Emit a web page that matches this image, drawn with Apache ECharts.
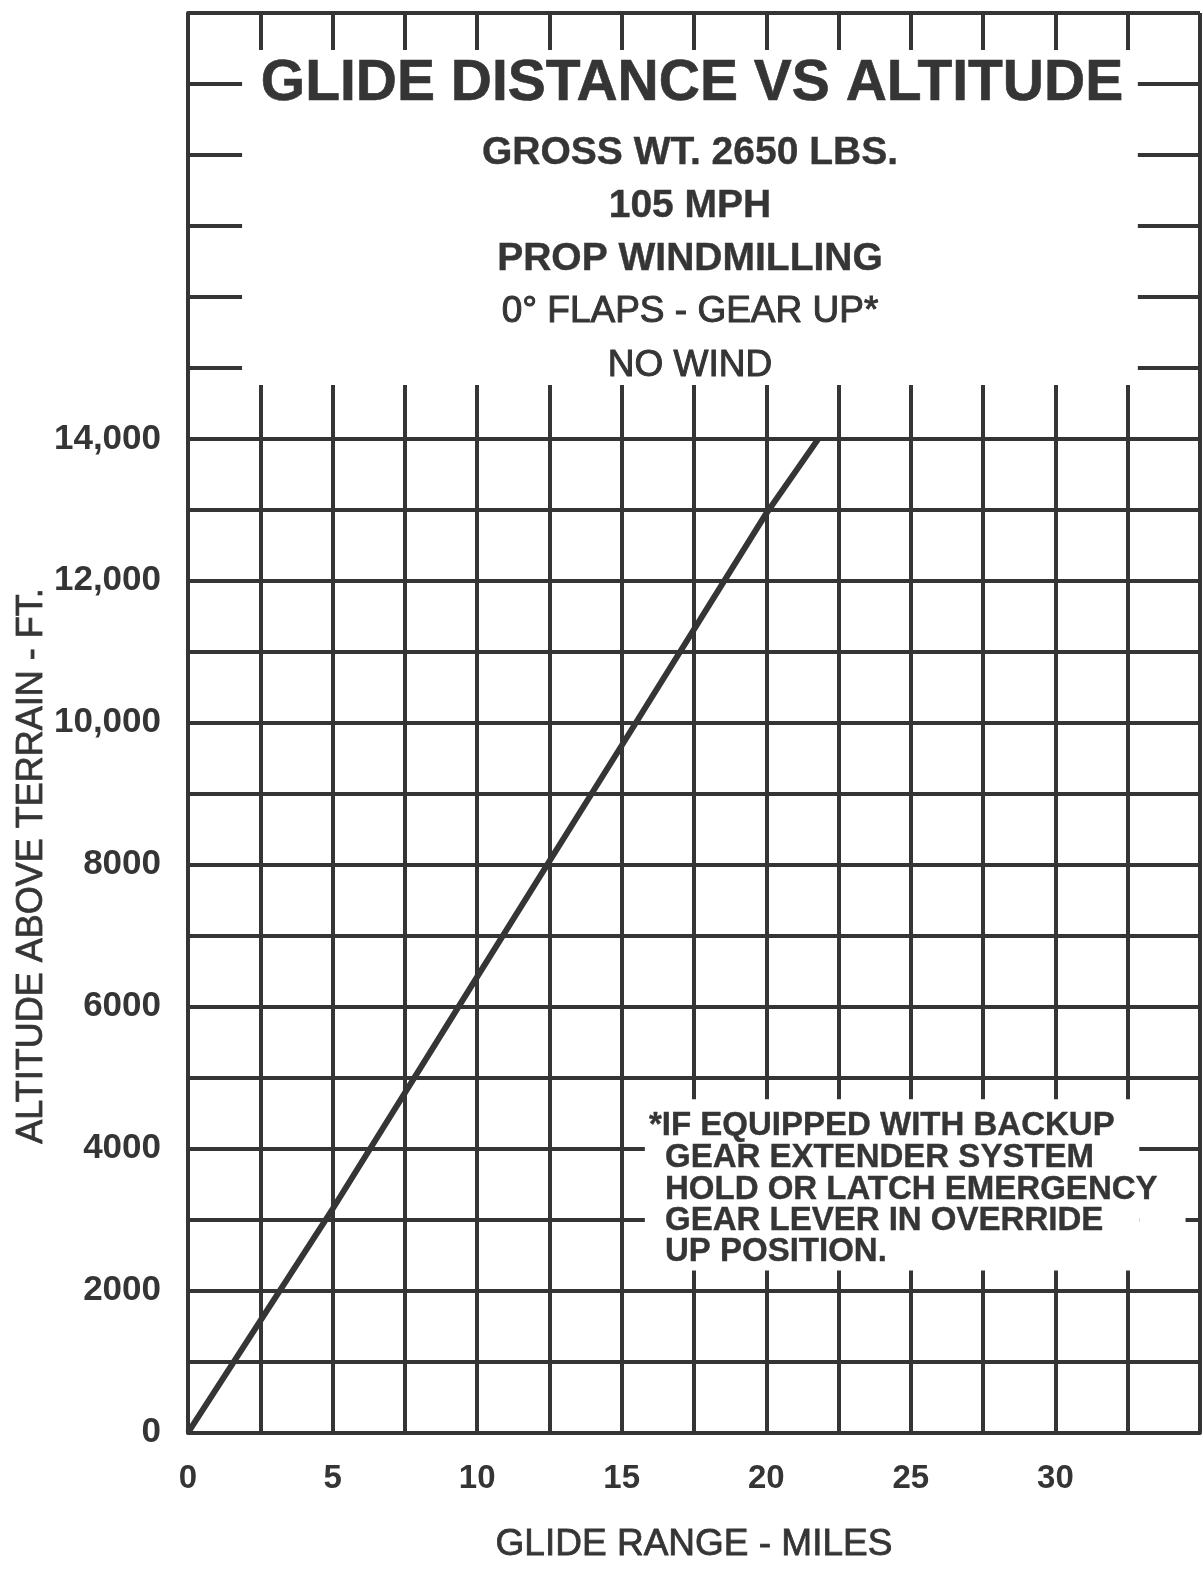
<!DOCTYPE html>
<html>
<head>
<meta charset="utf-8">
<script src="https://cdn.jsdelivr.net/npm/echarts@6/dist/echarts.min.js"></script>
<style>
  html, body { margin: 0; padding: 0; background: #ffffff; }
  #chart { width: 1203px; height: 1569px; }
</style>
</head>
<body>
<div id="chart"></div>
<script>
// ---- data ----
const xMiles = [0, 5, 10, 15, 20, 21.8];
const altitudeFt = [0, 3150, 6420, 9680, 12950, 14000];

const xTickValues = [0, 5, 10, 15, 20, 25, 30];
const xTickLabels = ['0', '5', '10', '15', '20', '25', '30'];
const yTickValues = [0, 2000, 4000, 6000, 8000, 10000, 12000, 14000];
const yTickLabels = ['0', '2000', '4000', '6000', '8000', '10,000', '12,000', '14,000'];

const titleText = 'GLIDE DISTANCE VS ALTITUDE';
const conditionLines = ['GROSS WT. 2650 LBS.', '105 MPH', 'PROP WINDMILLING', '0° FLAPS - GEAR UP*', 'NO WIND'];
const footnoteLines = ['*IF EQUIPPED WITH BACKUP', 'GEAR EXTENDER SYSTEM', 'HOLD OR LATCH EMERGENCY', 'GEAR LEVER IN OVERRIDE', 'UP POSITION.'];
const xAxisTitle = 'GLIDE RANGE - MILES';
const yAxisTitle = 'ALTITUDE ABOVE TERRAIN - FT.';

// ---- chart ----
const INK = '#353535';
const FONT = '"Liberation Sans", Arial, Helvetica, sans-serif';
const chart = echarts.init(document.getElementById('chart'), null, { renderer: 'canvas' });

const lineData = xMiles.map((x, i) => [x, altitudeFt[i]]);

const conditionY = [153, 206, 259, 312, 366];
const conditionBold = [true, true, true, false, false];
const graphics = [];
graphics.push({
  type: 'text', z: 100,
  style: { text: titleText, x: 692, y: 84, textAlign: 'center', textVerticalAlign: 'middle',
    font: 'bold 57px ' + FONT, fill: INK, stroke: INK, lineWidth: 0.6 }
});
conditionLines.forEach((t, i) => {
  graphics.push({
    type: 'text', z: 100,
    style: { text: t, x: 690, y: conditionY[i], textAlign: 'center', textVerticalAlign: 'middle',
      font: (conditionBold[i] ? 'bold 39px ' : '37px ') + FONT, fill: INK, stroke: INK,
      lineWidth: conditionBold[i] ? 0.4 : 1.0 }
  });
});
const footY = [1126, 1158, 1190, 1221, 1252];
footnoteLines.forEach((t, i) => {
  graphics.push({
    type: 'text', z: 100,
    style: { text: t, x: i === 0 ? 649 : 665, y: footY[i], textAlign: 'left', textVerticalAlign: 'middle',
      font: 'bold 33px ' + FONT, fill: INK, stroke: INK, lineWidth: 0.4 }
  });
});
graphics.push({
  type: 'text', z: 100, rotation: Math.PI / 2, x: 32, y: 866,
  style: { text: yAxisTitle, x: 0, y: 0, textAlign: 'center', textVerticalAlign: 'middle',
    font: '36px ' + FONT, fill: INK, stroke: INK, lineWidth: 0.8 }
});

chart.setOption({
  animation: false,
  backgroundColor: '#ffffff',
  grid: { left: 188, right: 3, top: 13, bottom: 129, containLabel: false },
  xAxis: {
    type: 'value', min: 0, max: 35, interval: 2.5,
    name: xAxisTitle, nameLocation: 'middle', nameGap: 94,
    nameTextStyle: { color: INK, fontSize: 37, fontFamily: FONT, textBorderColor: INK, textBorderWidth: 0.8 },
    axisLine: { show: true, lineStyle: { color: INK, width: 4 } },
    axisTick: { show: false },
    splitLine: { show: true, lineStyle: { color: INK, width: 4 } },
    axisLabel: {
      margin: 30, color: INK, fontSize: 33, fontWeight: 'bold', fontFamily: FONT,
      showMaxLabel: true,
      formatter: v => { const i = xTickValues.indexOf(v); return i >= 0 ? xTickLabels[i] : ''; }
    }
  },
  yAxis: {
    type: 'value', min: 0, max: 20000, interval: 1000,
    axisLine: { show: true, lineStyle: { color: INK, width: 4 } },
    axisTick: { show: false },
    splitLine: { show: true, lineStyle: { color: INK, width: 4 } },
    axisLabel: {
      margin: 27, color: INK, fontSize: 35, fontWeight: 'bold', fontFamily: FONT,
      formatter: v => { const i = yTickValues.indexOf(v); return i >= 0 ? yTickLabels[i] : ''; }
    }
  },
  series: [{
    type: 'line',
    data: lineData,
    showSymbol: false,
    symbol: 'none',
    lineStyle: { color: INK, width: 6 },
    z: 3,
    markArea: {
      silent: true,
      itemStyle: { color: '#ffffff', opacity: 1 },
      data: [
        [{ xAxis: 1.87, yAxis: 14760 }, { xAxis: 32.85, yAxis: 19480 }],
        [{ xAxis: 15.8, yAxis: 2285 }, { xAxis: 32.9, yAxis: 4695 }],
        [{ xAxis: 32.9, yAxis: 2750 }, { xAxis: 34.5, yAxis: 3250 }]
      ]
    }
  }],
  graphic: graphics
});
</script>
</body>
</html>
